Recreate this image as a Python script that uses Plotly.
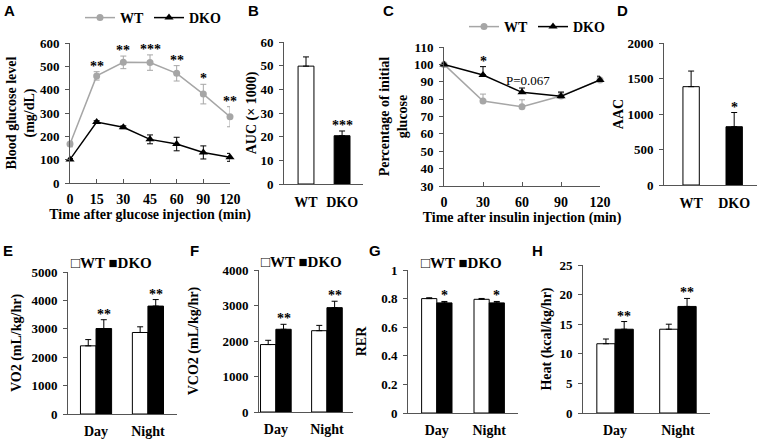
import plotly.graph_objects as go

# ---------------- data ----------------
gtt_time = ["0", "15", "30", "45", "60", "90", "120"]
gtt_wt = [167, 459, 517, 516, 470, 381, 284]
gtt_wt_err = [12, 18, 27, 33, 33, 42, 43]
gtt_dko = [101, 261, 239, 187, 167, 131, 110]
gtt_dko_err = [4, 6, 6, 19, 29, 28, 17]
gtt_sig = ["", "**", "**", "***", "**", "*", "**"]

genotypes = ["WT", "DKO"]
auc = [49.8, 20.4]
auc_err = [3.9, 2.0]
auc_sig = ["", "***"]

itt_time = ["0", "30", "60", "90", "120"]
itt_wt = [100, 78.9, 75.6, 81.8, 91.0]
itt_wt_err = [0, 4.0, 4.0, 2.0, 1.5]
itt_dko = [100, 93.9, 83.9, 81.6, 91.0]
itt_dko_err = [0, 4.8, 2.5, 2.5, 2.2]

aac = [1385, 821]
aac_err = [220, 200]
aac_sig = ["", "*"]

periods = ["Day", "Night"]
vo2_wt = [2400, 2870]
vo2_wt_err = [220, 200]
vo2_dko = [3010, 3800]
vo2_dko_err = [310, 230]
vo2_sig = ["**", "**"]

vco2_wt = [1900, 2290]
vco2_wt_err = [120, 150]
vco2_dko = [2330, 2940]
vco2_dko_err = [140, 180]
vco2_sig = ["**", "**"]

rer_wt = [0.80, 0.795]
rer_wt_err = [0.006, 0.006]
rer_dko = [0.77, 0.77]
rer_dko_err = [0.01, 0.01]
rer_sig = ["*", "*"]

heat_wt = [11.7, 14.15]
heat_wt_err = [0.8, 0.85]
heat_dko = [14.15, 18.0]
heat_dko_err = [1.3, 1.35]
heat_sig = ["**", "**"]

# ---------------- layout helpers ----------------
W, H = 758, 439
SERIF = "Liberation Serif"
SANS = "Liberation Sans"
AX = "#555555"
GRAY = "#a6a6a6"


def dx(px):
    return px / W


def dy(px):
    return 1 - px / H


fig = go.Figure()
annotations = []


def axis_pair(n, xpx, ypx, xrange, yrange, dtick, xtitle=None, ytitle=None,
              ytitle_standoff=6, xticks="", xlabel_standoff=4):
    sx = "" if n == 1 else str(n)
    xa = dict(domain=[dx(xpx[0]), dx(xpx[1])], anchor="y" + sx, range=xrange,
              type="category", showline=True, linecolor=AX, linewidth=1,
              ticks=xticks, ticklen=4, tickcolor=AX, showgrid=False, zeroline=False,
              ticklabelstandoff=xlabel_standoff, automargin=False, fixedrange=True,
              tickfont=dict(size=14))
    if xtitle:
        xa["title"] = dict(text=xtitle, font=dict(size=14), standoff=0)
    ya = dict(domain=[dy(ypx[0]), dy(ypx[1])], anchor="x" + sx, range=yrange,
              dtick=dtick, tick0=0, showline=True, linecolor=AX, linewidth=1,
              ticks="outside", ticklen=4, tickcolor=AX, showgrid=False,
              zeroline=False, automargin=False, fixedrange=True,
              ticklabelstandoff=3, tickfont=dict(size=13))
    if ytitle:
        ya["title"] = dict(text=ytitle, font=dict(size=14), standoff=ytitle_standoff)
    return {"xaxis" + sx: xa, "yaxis" + sx: ya}


axes = {}
axes.update(axis_pair(1, (70, 230), (183, 43), [0, 6], [0, 600], 100,
                      xtitle="Time after glucose injection (min)",
                      ytitle="Blood glucose level<br>(mg/dL)", xticks="inside",
                      xlabel_standoff=3, ytitle_standoff=1))
axes.update(axis_pair(2, (284, 363), (184, 42), [-0.61, 1.58], [0, 60], 10,
                      ytitle="AUC (\u00d7 1000)", xlabel_standoff=5, ytitle_standoff=0))
axes.update(axis_pair(3, (444, 600), (186, 47), [0, 4], [30, 110], 10,
                      xtitle="Time after insulin injection (min)",
                      ytitle="Percentage of initial<br>glucose", xticks="inside",
                      xlabel_standoff=3, ytitle_standoff=2))
axes.update(axis_pair(4, (664, 757), (185, 43), [-0.63, 1.53], [0, 2000], 500,
                      ytitle="AAC", xlabel_standoff=5, ytitle_standoff=0))
axes.update(axis_pair(5, (68, 177), (414, 272), [-0.54, 1.56], [0, 5000], 1000,
                      ytitle="VO2 (mL/kg/hr)", ytitle_standoff=6))
axes.update(axis_pair(6, (259, 353), (412, 270), [-0.33, 1.51], [0, 4000], 1000,
                      ytitle="VCO2 (mL/kg/hr)", ytitle_standoff=20))
axes.update(axis_pair(7, (408, 518), (413, 270), [-0.55, 1.55], [0, 1], 0.2,
                      ytitle="RER", ytitle_standoff=11))
axes.update(axis_pair(8, (583, 710), (413, 265), [-0.51, 1.51], [0, 25], 5,
                      ytitle="Heat (kcal/kg/hr)", ytitle_standoff=4))


def star(xref, yref, x, y, text, size=14, yshift=-4):
    annotations.append(dict(x=x, y=y, xref=xref, yref=yref, text=text,
                            showarrow=False, yanchor="bottom", yshift=yshift,
                            font=dict(family=SERIF, size=size, color="black")))


# ---------------- A: glucose tolerance ----------------
fig.add_trace(go.Scatter(x=gtt_time, y=gtt_wt, name="WT", mode="lines+markers",
                         line=dict(color=GRAY, width=1.5),
                         marker=dict(symbol="circle", size=7, color=GRAY),
                         error_y=dict(type="data", array=gtt_wt_err, color=GRAY,
                                      thickness=1, width=3),
                         cliponaxis=False, xaxis="x", yaxis="y", legend="legend"))
fig.add_trace(go.Scatter(x=gtt_time, y=gtt_dko, name="DKO", mode="lines+markers",
                         line=dict(color="black", width=1.5),
                         marker=dict(symbol="triangle-up", size=8, color="black"),
                         error_y=dict(type="data", array=gtt_dko_err, color="black",
                                      thickness=1, width=3),
                         cliponaxis=False, xaxis="x", yaxis="y", legend="legend"))
for i, s in enumerate(gtt_sig):
    if s:
        star("x", "y", i, gtt_wt[i] + gtt_wt_err[i], s)

# ---------------- B: AUC ----------------
fig.add_trace(go.Bar(x=genotypes, y=auc, width=0.44,
                     marker=dict(color=["white", "black"], line=dict(color="black", width=1)),
                     error_y=dict(type="data", array=auc_err, arrayminus=[0, 0],
                                  symmetric=False, color="black", thickness=1, width=3),
                     showlegend=False, xaxis="x2", yaxis="y2"))
for i, s in enumerate(auc_sig):
    if s:
        star("x2", "y2", i, auc[i] + auc_err[i], s)

# ---------------- C: insulin tolerance ----------------
fig.add_trace(go.Scatter(x=itt_time, y=itt_wt, name="WT", mode="lines+markers",
                         line=dict(color=GRAY, width=1.5),
                         marker=dict(symbol="circle", size=7, color=GRAY),
                         error_y=dict(type="data", array=itt_wt_err,
                                      arrayminus=[0] * len(itt_wt), symmetric=False,
                                      color=GRAY, thickness=1, width=3),
                         cliponaxis=False, xaxis="x3", yaxis="y3", legend="legend2"))
fig.add_trace(go.Scatter(x=itt_time, y=itt_dko, name="DKO", mode="lines+markers",
                         line=dict(color="black", width=1.5),
                         marker=dict(symbol="triangle-up", size=8, color="black"),
                         error_y=dict(type="data", array=itt_dko_err,
                                      arrayminus=[0] * len(itt_dko), symmetric=False,
                                      color="black", thickness=1, width=3),
                         cliponaxis=False, xaxis="x3", yaxis="y3", legend="legend2"))
star("x3", "y3", 1, itt_dko[1] + itt_dko_err[1], "*")
annotations.append(dict(x=2, y=85, xref="x3", yref="y3", text="P=0.067",
                        showarrow=False, xshift=6, yanchor="bottom",
                        font=dict(family=SERIF, size=13, color="black", weight="normal")))

# ---------------- D: AAC ----------------
fig.add_trace(go.Bar(x=genotypes, y=aac, width=0.38,
                     marker=dict(color=["white", "black"], line=dict(color="black", width=1)),
                     error_y=dict(type="data", array=aac_err, arrayminus=[0, 0],
                                  symmetric=False, color="black", thickness=1, width=3),
                     showlegend=False, xaxis="x4", yaxis="y4"))
for i, s in enumerate(aac_sig):
    if s:
        star("x4", "y4", i, aac[i] + aac_err[i], s)


# ---------------- E-H: grouped bars ----------------
def grouped(n, wt, wt_err, dko, dko_err, sig, w):
    sx = str(n)
    fig.add_trace(go.Bar(x=periods, y=wt, name="WT", width=w, offset=-w,
                         marker=dict(color="white", line=dict(color="black", width=1)),
                         error_y=dict(type="data", array=wt_err, arrayminus=[0, 0],
                                      symmetric=False, color="black", thickness=1, width=3),
                         showlegend=False, xaxis="x" + sx, yaxis="y" + sx))
    fig.add_trace(go.Bar(x=periods, y=dko, name="DKO", width=w, offset=0,
                         marker=dict(color="black", line=dict(color="black", width=1)),
                         error_y=dict(type="data", array=dko_err, arrayminus=[0, 0],
                                      symmetric=False, color="black", thickness=1, width=3),
                         showlegend=False, xaxis="x" + sx, yaxis="y" + sx))
    for i, s in enumerate(sig):
        star("x" + sx, "y" + sx, i + w / 2, dko[i] + dko_err[i], s)


grouped(5, vo2_wt, vo2_wt_err, vo2_dko, vo2_dko_err, vo2_sig, 0.30)
grouped(6, vco2_wt, vco2_wt_err, vco2_dko, vco2_dko_err, vco2_sig, 0.30)
grouped(7, rer_wt, rer_wt_err, rer_dko, rer_dko_err, rer_sig, 0.29)
grouped(8, heat_wt, heat_wt_err, heat_dko, heat_dko_err, heat_sig, 0.29)

# bar-panel legends (key text as in the figure)
bar_keys = [(69, 263), (259, 262), (419, 263)]
for px, py in bar_keys:
    annotations.append(dict(x=dx(px), y=dy(py), xref="paper", yref="paper",
                            text="\u25a1WT \u25a0DKO", showarrow=False,
                            xanchor="left", yanchor="middle",
                            font=dict(family=SERIF, size=15, color="black", weight="bold")))

# ---------------- panel letters ----------------
top_letters = [("A", 9), ("B", 253), ("C", 388), ("D", 622)]
for t, px in top_letters:
    annotations.append(dict(x=dx(px), y=1, xref="paper", yref="paper", text=t,
                            showarrow=False, xanchor="center", yanchor="top",
                            font=dict(family=SANS, size=15, color="black", weight="bold")))
bottom_letters = [("E", 8), ("F", 194), ("G", 375), ("H", 537)]
for t, px in bottom_letters:
    annotations.append(dict(x=dx(px), y=dy(250), xref="paper", yref="paper", text=t,
                            showarrow=False, xanchor="center", yanchor="middle",
                            font=dict(family=SANS, size=15, color="black", weight="bold")))


def legend_at(px, py):
    return dict(x=dx(px), y=dy(py), xanchor="left", yanchor="middle",
                orientation="h", bgcolor="rgba(0,0,0,0)", itemwidth=30,
                font=dict(family=SERIF, size=14, color="black", weight="bold"))


fig.update_layout(
    width=W, height=H, autosize=False,
    margin=dict(l=0, r=0, t=0, b=0),
    paper_bgcolor="white", plot_bgcolor="white",
    font=dict(family=SERIF, size=13, color="black", weight="bold"),
    barmode="overlay",
    legend=legend_at(80, 18),
    legend2=legend_at(464, 27),
    annotations=annotations,
    **axes,
)

fig.write_html("out.html", config={"displayModeBar": False},
               post_script="document.body.style.margin='0';")
